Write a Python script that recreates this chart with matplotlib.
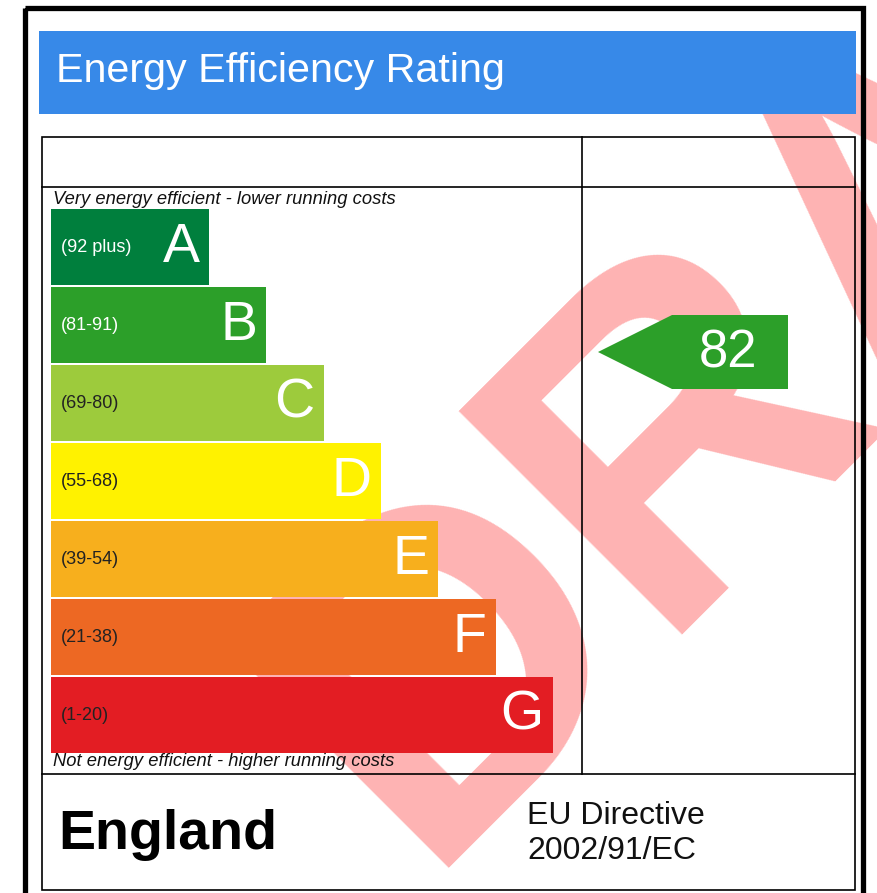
import matplotlib.pyplot as plt
from matplotlib.patches import Rectangle, Polygon

bands = ["A", "B", "C", "D", "E", "F", "G"]
ranges = ["(92 plus)", "(81-91)", "(69-80)", "(55-68)", "(39-54)", "(21-38)", "(1-20)"]
colors = ["#007f3d", "#2c9f29", "#9dcb3c", "#fff200", "#f7af1d", "#ed6823", "#e31d23"]
range_colors = ["white", "white", "#222222", "#222222", "#222222", "#222222", "#222222"]
current = 82
current_band = "B"

W, H = 877, 893
fig = plt.figure(figsize=(W / 100, H / 100), dpi=100)
ax = fig.add_axes([0, 0, 1, 1])
ax.set_xlim(0, W)
ax.set_ylim(H, 0)
ax.axis("off")

font = "Liberation Sans"

# watermark under everything
ax.text(418, 868, "DRAFT", fontsize=330, family=font, weight="bold", color="#feb3b3",
        rotation=45, ha="left", va="baseline", rotation_mode="anchor", zorder=0)

# outer frame
ax.add_patch(Rectangle((24.5, 7.5), 838.5, 900, fill=False, ec="black", lw=3.8, zorder=5))

# header
ax.add_patch(Rectangle((39, 31), 817, 83, fc="#3789e8", ec="none", zorder=3))
ax.text(56, 82, "Energy Efficiency Rating", color="white", fontsize=29.7, family=font,
        va="baseline", ha="left", zorder=4)

# table
lw = 1.2
ax.add_patch(Rectangle((42, 137), 813, 753, fill=False, ec="black", lw=lw, zorder=4))
ax.plot([42, 855], [187, 187], color="black", lw=lw, zorder=4)
ax.plot([42, 855], [774, 774], color="black", lw=lw, zorder=4)
ax.plot([582, 582], [137, 774], color="black", lw=lw, zorder=4)

ax.text(53, 199, "Very energy efficient - lower running costs", fontsize=13.2, style="italic",
        family=font, color="#111111", va="center", zorder=4)
ax.text(53, 761, "Not energy efficient - higher running costs", fontsize=13.2, style="italic",
        family=font, color="#111111", va="center", zorder=4)

# bars
x0, top, bh, gap = 51, 209, 76, 2
for i, (b, r, c, rc) in enumerate(zip(bands, ranges, colors, range_colors)):
    width = 158 + 57.3 * i
    y = top + i * (bh + gap)
    ax.add_patch(Rectangle((x0, y), width, bh, fc=c, ec="none", zorder=2))
    ax.text(x0 + 10, y + bh / 2, r, fontsize=13, family=font, color=rc,
            va="center", ha="left", zorder=3)
    ax.text(x0 + width - 9, y + bh / 2 + 1, b, fontsize=40, family=font, color="white",
            va="center", ha="right", zorder=3)

# current rating arrow
i = bands.index(current_band)
cy = 352
arrow = Polygon([(598, cy), (672, cy - 37), (788, cy - 37), (788, cy + 37), (672, cy + 37)],
                closed=True, fc=colors[i], ec="none", zorder=2)
ax.add_patch(arrow)
ax.text(728, cy + 1, str(current), fontsize=38, family=font, color="white",
        va="center", ha="center", zorder=3)

# footer
ax.text(58, 849, "England", fontsize=40, family=font, weight="bold", color="black",
        va="baseline", ha="left", zorder=4)
ax.text(527, 816, "EU Directive", fontsize=23, family=font, color="#111111",
        va="center", ha="left", zorder=4)
ax.text(527, 851, "2002/91/EC", fontsize=23, family=font, color="#111111",
        va="center", ha="left", zorder=4)

fig.savefig("out.png", dpi=100, facecolor="white")
